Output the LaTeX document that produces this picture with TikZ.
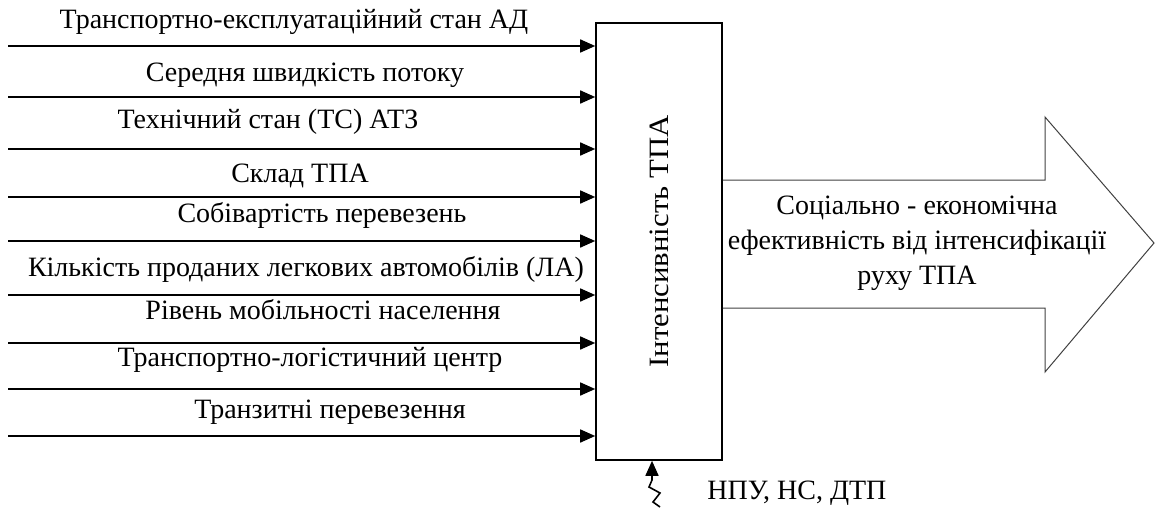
\documentclass[tikz,border=0pt]{standalone}
\usepackage{fontspec}
\setmainfont{Liberation Serif}
\usetikzlibrary{arrows.meta}

\begin{document}
\begin{tikzpicture}[x=0.5pt,y=-0.5pt,-{Triangle[length=7.5pt,width=6.5pt]},line width=0.8pt,font=\fontsize{14}{17.5}\selectfont]
   \useasboundingbox (0,0) rectangle (1155,508);
   \tikzstyle{factor}=[inner sep=0pt]
   \node[draw, minimum width=63pt, minimum height=218.5pt, inner sep=0pt] (tpa) at (659,241.5) {\rotatebox{90}{\scalebox{1.1}[1]{Інтенсивність ТПА}}};
   \foreach \i/\ly/\tx/\ty/\txt in {1/46/294/22/{Транспортно-експлуатаційний стан АД},
                                    2/97/305/75/{Середня швидкість потоку},
                                    3/149/268/122/{Технічний стан (ТС) АТЗ},
                                    4/197/300/176/{Склад ТПА},
                                    5/241/322/215/{Собівартість перевезень},
                                    6/295/306/269/{Кількість проданих легкових автомобілів (ЛА)},
                                    7/343/323/310/{Рівень мобільності населення},
                                    8/389/310/360/{Транспортно-логістичний центр},
                                    9/436/330/412/{Транзитні перевезення}} {
       \coordinate (s\i) at (8,\ly);
       \node[factor] (f\i) at (\tx,\ty) {\txt};
       \draw (s\i) -- (s\i -| tpa.west);
   }
   % output arrow
   \draw[-, line width=0.5pt, draw=black!75] (tpa.east |- 0,180) -- (1045,180) -- (1045,117) -- (1154,243)
        -- (1045,372) -- (1045,308) -- (tpa.east |- 0,308);
   \node[align=center] (effect) at (917,243) {Соціально - економічна\\ефективність від інтенсифікації\\руху ТПА};
   % disturbances
   \coordinate (dist) at (660,507);
   \node[anchor=west] (hazards) at (700,493) {НПУ, НС, ДТП};
   \draw (dist) -- (653,502) -- (660,493) -- (649,487) -- (652,480) -- (652,480 |- tpa.south);
\end{tikzpicture}
\end{document}
